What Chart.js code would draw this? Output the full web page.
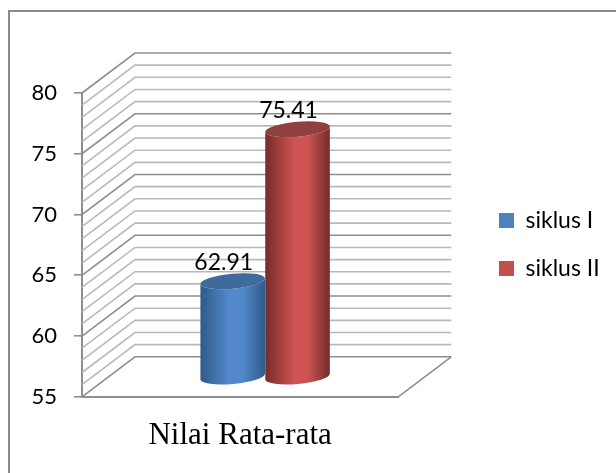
<!DOCTYPE html>
<html>
<head>
<meta charset="utf-8">
<title>Nilai Rata-rata</title>
<script src="https://cdn.jsdelivr.net/npm/chart.js@4/dist/chart.umd.min.js"></script>
<style>
  html, body { margin: 0; padding: 0; background: #fff; }
  #wrap { position: absolute; left: 0; top: 0; width: 616px; height: 473px; }
  #frameTop { position: absolute; left: 8px; top: 10px; width: 608px; height: 2px; background: #8a8a8a; }
  #frameLeft { position: absolute; left: 8px; top: 10px; width: 2px; height: 463px; background: #8a8a8a; }
</style>
</head>
<body>
<div id="wrap">
  <div id="frameTop"></div>
  <div id="frameLeft"></div>
  <canvas id="nilaiChart" width="616" height="473" style="position:absolute;left:0;top:0"></canvas>
</div>
<script>
// ===== Nilai rata-rata per siklus =====

const categories = ["Nilai Rata-rata"];
const siklusI = [62.91];
const siklusII = [75.41];
const yTicks = [55, 60, 65, 70, 75, 80];

// Depth of the floor and back wall
const depthX = 53;
const depthY = 40;
// Cylinders stand halfway into the floor
const barShiftX = 25;
const barShiftY = 19.5;

const palette = {
  "siklus I": { top: "#3f6a9c", edge: "#2f5a8a", mid: "#5289ca" },
  "siklus II": { top: "#8f3f3d", edge: "#752c2a", mid: "#cd5452" }
};

function strokeLine(ctx, points, color, width) {
  ctx.beginPath();
  ctx.strokeStyle = color;
  ctx.lineWidth = width;
  points.forEach((p, i) => (i ? ctx.lineTo(p[0], p[1]) : ctx.moveTo(p[0], p[1])));
  ctx.stroke();
}

// Left wall, back wall and floor, one line per unit on the value axis
const wallsPlugin = {
  id: "walls",
  beforeDatasetsDraw(chart) {
    const { ctx, scales: { y }, chartArea: area } = chart;
    ctx.save();
    for (let v = y.min; v <= y.max; v++) {
      const py = y.getPixelForValue(v);
      const major = v % 5 === 0;
      strokeLine(ctx, [
        [area.left, py],
        [area.left + depthX, py - depthY],
        [area.right + depthX, py - depthY]
      ], major ? "#8e8e8e" : "#b9b9b9", 1.6);
    }
    strokeLine(ctx, [
      [area.right, area.bottom],
      [area.right + depthX, area.bottom - depthY]
    ], "#8e8e8e", 1.6);
    ctx.restore();
  }
};

// Replaces the flat bar with a shaded cylinder at the same scale position
const cylinderPlugin = {
  id: "cylinder",
  beforeDatasetDraw(chart, args) {
    const { ctx } = chart;
    const colors = palette[args.meta.label];
    args.meta.data.forEach(bar => {
      const cx = bar.x + barShiftX;
      const rx = bar.width / 2;
      const ry = 7.5;
      const tilt = -0.09;
      const topY = bar.y - barShiftY;
      const bottomY = bar.base - barShiftY;

      const grad = ctx.createLinearGradient(cx - rx, 0, cx + rx, 0);
      grad.addColorStop(0, colors.edge);
      grad.addColorStop(0.45, colors.mid);
      grad.addColorStop(0.65, colors.mid);
      grad.addColorStop(1, colors.edge);

      ctx.save();
      ctx.beginPath();
      ctx.ellipse(cx, topY, rx, ry, tilt, Math.PI, 0, true);
      ctx.ellipse(cx, bottomY, rx, ry, tilt, 0, Math.PI, false);
      ctx.closePath();
      ctx.fillStyle = grad;
      ctx.fill();

      ctx.beginPath();
      ctx.ellipse(cx, topY, rx, ry, tilt, 0, Math.PI * 2);
      ctx.fillStyle = colors.top;
      ctx.fill();
      ctx.restore();
    });
    return false;
  }
};

const valueLabelPlugin = {
  id: "valueLabel",
  afterDatasetsDraw(chart) {
    const { ctx } = chart;
    ctx.save();
    ctx.font = "23px Lato";
    ctx.fillStyle = "#000";
    ctx.textAlign = "center";
    ctx.textBaseline = "alphabetic";
    chart.data.datasets.forEach((ds, i) => {
      chart.getDatasetMeta(i).data.forEach((bar, j) => {
        ctx.fillText(ds.data[j].toFixed(2), bar.x + barShiftX - 9, bar.y - barShiftY - 11);
      });
    });
    ctx.restore();
  }
};

// Legend sits right of the wall overhang and above the plot's vertical centre
const legendPlacePlugin = {
  id: "legendPlace",
  afterLayout(chart) {
    const legend = chart.legend;
    const shiftX = 474 - legend.left;
    legend.left += shiftX;
    legend.right += shiftX;
    legend.top -= 35;
    legend.bottom -= 35;
  }
};

new Chart(document.getElementById("nilaiChart"), {
  type: "bar",
  data: {
    labels: categories,
    datasets: [
      { label: "siklus I", data: siklusI, base: yTicks[0], backgroundColor: "#4f81bd" },
      { label: "siklus II", data: siklusII, base: yTicks[0], backgroundColor: "#c0504d" }
    ]
  },
  options: {
    responsive: false,
    animation: false,
    categoryPercentage: 0.41,
    barPercentage: 1,
    layout: { padding: { left: 0, right: 85, top: 93, bottom: 7 } },
    scales: {
      x: {
        grid: { display: false },
        border: { color: "#8e8e8e", width: 2 },
        ticks: { color: "#000", padding: 12, font: { family: "Liberation Serif", size: 31 } }
      },
      y: {
        min: yTicks[0],
        max: yTicks[yTicks.length - 1],
        afterBuildTicks: axis => { axis.ticks = yTicks.map(value => ({ value })); },
        afterFit: axis => { axis.width = 82; },
        grid: { drawOnChartArea: false, color: "#8e8e8e", tickLength: 8, lineWidth: 1.6 },
        border: { color: "#8e8e8e", width: 2 },
        ticks: { color: "#000", padding: 17, font: { family: "Lato", size: 22 } }
      }
    },
    plugins: {
      tooltip: { enabled: false },
      legend: {
        position: "right",
        labels: {
          boxWidth: 15,
          boxHeight: 15,
          padding: 25,
          color: "#000",
          font: { family: "Lato", size: 23 }
        }
      }
    }
  },
  plugins: [wallsPlugin, cylinderPlugin, valueLabelPlugin, legendPlacePlugin]
});
</script>
</body>
</html>
